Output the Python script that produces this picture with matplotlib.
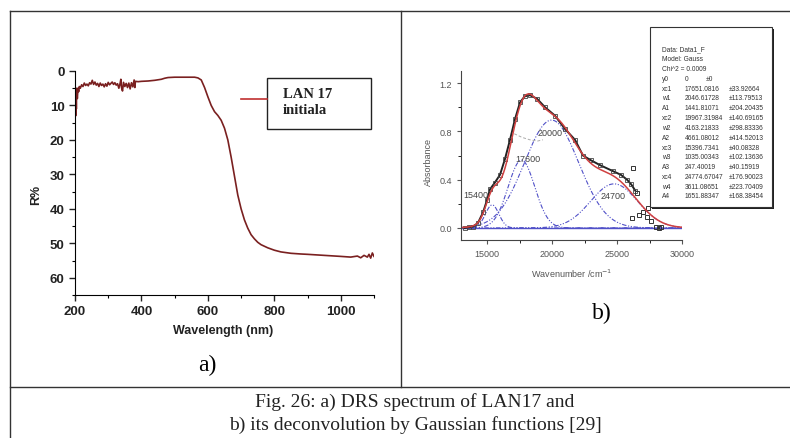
import numpy as np
import matplotlib
matplotlib.use('Agg')
import matplotlib.pyplot as plt
from matplotlib.patches import Rectangle
from matplotlib.ticker import MultipleLocator

plt.rcParams['font.family'] = ['Liberation Sans', 'DejaVu Sans']

# ---- panel a: DRS spectrum ----
wl = [200, 201, 202, 203, 204, 205, 207, 209, 211, 213, 216, 220, 224, 228, 232, 236, 240, 244,
      248, 252, 256, 260, 264, 268, 272, 276, 280, 284, 288, 292, 296, 300, 304, 308, 312, 316,
      320, 324, 328, 332, 336, 338, 340, 343, 346, 350, 354, 358, 362, 366, 370, 374, 378, 380,
      382, 390, 400, 420, 440, 460, 470, 480, 500, 520, 540, 560, 570, 580, 590, 600, 610, 620,
      630, 640, 650, 660, 670, 680, 690, 700, 710, 720, 730, 740, 750, 760, 780, 800, 820, 850,
      880, 900, 950, 1000, 1030, 1050, 1060, 1070, 1080, 1085, 1090, 1095, 1100]
refl = [16, 9, 13, 6, 11, 5, 8, 5, 6, 4.5, 5, 4, 4.5, 3.5, 4.2, 3.8, 4.3, 3.4,
        3.8, 2.7, 3.9, 3.2, 4.1, 3.6, 4.5, 3.5, 4.2, 3.8, 4.6, 3.7, 4.4, 3.3, 4.0, 3.6, 3.2, 3.9,
        3.4, 4.1, 3.7, 5.0, 3.5, 2.4, 4.8, 5.8, 3.3, 4.5, 3.6, 4.8, 3.5, 5.2, 3.4, 4.6, 2.6, 4.8,
        3.0, 3.1, 3.0, 2.9, 2.7, 2.4, 2.1, 1.9, 1.8, 1.8, 1.8, 1.8, 2.0, 2.6, 4.8, 7.5, 10.0, 11.8,
        12.9, 14.3, 16.6, 20.0, 25.0, 30.5, 36.0, 40.0, 43.2, 45.6, 47.5, 48.7, 49.7, 50.4, 51.3, 52.0, 52.5, 52.9,
        53.1, 53.2, 53.5, 53.8, 54.0, 53.7, 54.2, 53.5, 54.0, 53.2, 54.3, 52.8, 53.8]

# ---- panel b: absorbance + Gaussian deconvolution ----
wn = [13300, 13600, 13900, 14300, 14700, 15000, 15230, 15600, 16000, 16380, 16770, 17150, 17540,
      17900, 18300, 18850, 19460, 20230, 21000, 21770, 22380, 23000, 23700, 24700, 25300, 25770,
      26100, 26400]
absb = [0.0, 0.005, 0.01, 0.04, 0.13, 0.23, 0.32, 0.375, 0.44, 0.57, 0.73, 0.90, 1.04,
        1.09, 1.10, 1.07, 1.00, 0.93, 0.82, 0.73, 0.60, 0.56, 0.52, 0.47, 0.44, 0.40,
        0.36, 0.31]
out_x = [26230, 26150, 26540, 26700, 27000, 27300, 27380, 27600, 28000, 28200, 28400]
out_y = [0.50, 0.08, 0.29, 0.11, 0.135, 0.09, 0.165, 0.06, 0.01, 0.0, 0.01]
faint_x = [17100, 17700, 18300, 18900, 19300]
faint_y = [0.78, 0.75, 0.73, 0.72, 0.73]

# fit parameters as printed in the result box
xc = [17651.0816, 19967.31984, 15396.7341, 24774.67047]
w = [2046.61728, 4163.21833, 1035.00343, 3611.08651]
A = [1441.81071, 4661.08012, 247.40019, 1651.88347]
peak_lbl = ["17600", "20000", "15400", "24700"]
lbl_pos = [(18150, 0.575), (19850, 0.79), (14150, 0.275), (24700, 0.27)]

box_rows = [("xc1", "17651.0816", "\u00b133.92664"), ("w1", "2046.61728", "\u00b1113.79513"),
            ("A1", "1441.81071", "\u00b1204.20435"), ("xc2", "19967.31984", "\u00b1140.69165"),
            ("w2", "4163.21833", "\u00b1298.83336"), ("A2", "4661.08012", "\u00b1414.52013"),
            ("xc3", "15396.7341", "\u00b140.08328"), ("w3", "1035.00343", "\u00b1102.13636"),
            ("A3", "247.40019", "\u00b140.15919"), ("xc4", "24774.67047", "\u00b1176.90023"),
            ("w4", "3611.08651", "\u00b1223.70409"), ("A4", "1651.88347", "\u00b1168.38454")]

W, H = 790, 439
fig = plt.figure(figsize=(W / 100, H / 100), dpi=100)


def fx(x):
    return x / W


def fy(y):
    return 1 - y / H


# table frame
tc = '#333333'
fig.add_artist(plt.Line2D([fx(10), fx(10)], [fy(12), 0], color=tc, lw=1))
fig.add_artist(plt.Line2D([fx(10), 1], [fy(12), fy(12)], color=tc, lw=1))
fig.add_artist(plt.Line2D([fx(401), fx(401)], [fy(12), fy(388)], color=tc, lw=1))
fig.add_artist(plt.Line2D([fx(10), 1], [fy(388), fy(388)], color=tc, lw=1))

# ---------- panel a ----------
ax1 = fig.add_axes([fx(75), fy(296), 299 / W, 224 / H])
ax1.plot(wl, refl, color='#7a2020', lw=1.2)
ax1.set_xlim(200, 1100)
ax1.set_ylim(65, 0)
ax1.xaxis.set_major_locator(MultipleLocator(200))
ax1.xaxis.set_minor_locator(MultipleLocator(100))
ax1.yaxis.set_major_locator(MultipleLocator(10))
ax1.yaxis.set_minor_locator(MultipleLocator(5))
for s in ['top', 'right']:
    ax1.spines[s].set_visible(False)
ax1.tick_params(direction='out', length=4, width=1, labelsize=9.5, colors='#222222')
ax1.tick_params(which='minor', direction='out', length=2, width=0.8)
for lab in ax1.get_xticklabels() + ax1.get_yticklabels():
    lab.set_fontweight('bold')
ax1.set_xlabel("Wavelength (nm)", fontsize=9, fontweight='bold', color='#222222')
ax1.xaxis.set_label_coords(0.495, -0.13)
ax1.set_ylabel("R%", fontsize=9, fontweight='bold', color='#222222')
ax1.yaxis.set_label_coords(-0.11, 0.45)

# legend of panel a
fig.add_artist(plt.Line2D([fx(241), fx(267)], [fy(100), fy(100)], color='#c03030', lw=1.2))
fig.add_artist(Rectangle((fx(267), fy(130)), 104 / W, 51 / H, transform=fig.transFigure,
                         fill=False, edgecolor='#222222', lw=1))
fig.text(fx(283), fy(95), "LAN 17", family='Liberation Serif', fontweight='bold', fontsize=10.5,
         va='center', ha='left', color='#222222')
fig.text(fx(283), fy(111), "initiala", family='Liberation Serif', fontweight='bold', fontsize=10.5,
         va='center', ha='left', color='#222222')
fig.text(fx(207), fy(365), "a)", family='Liberation Serif', fontsize=17, ha='center', va='center')

# ---------- panel b ----------
ax2 = fig.add_axes([fx(461), fy(241), 221 / W, 169 / H])
xs = np.linspace(13000, 30000, 600)
comps = [a / (ww * np.sqrt(np.pi / 2)) * np.exp(-2 * ((xs - c) / ww) ** 2) for c, ww, a in zip(xc, w, A)]
blue = '#5050c8'
ax2.plot([13000, 30000], [0, 0], color=blue, lw=1)
for cc in comps:
    ax2.plot(xs, cc, color=blue, lw=0.8, ls=(0, (4, 1.5, 1, 1.5, 1, 1.5)))
ax2.plot(faint_x, faint_y, color='#aaaaaa', lw=0.7, ls=(0, (3, 2)))
ax2.plot(wn, absb, color='#222222', lw=1.4, marker='s', ms=2.5, mfc='none', mec='#444444', mew=0.6)
ax2.plot(out_x, out_y, ls='none', marker='s', ms=2.8, mfc='none', mec='#333333', mew=0.7)
ax2.plot(xs, np.sum(comps, axis=0), color='#d04040', lw=1.1)
for t, (px, py) in zip(peak_lbl, lbl_pos):
    ax2.text(px, py, t, fontsize=6.5, color='#444444', ha='center', va='center')
ax2.set_xlim(13000, 30000)
ax2.set_ylim(-0.1, 1.3)
ax2.xaxis.set_major_locator(MultipleLocator(5000))
ax2.xaxis.set_minor_locator(MultipleLocator(2500))
ax2.yaxis.set_major_locator(MultipleLocator(0.4))
ax2.yaxis.set_minor_locator(MultipleLocator(0.2))
ax2.yaxis.set_major_formatter(matplotlib.ticker.FormatStrFormatter('%.1f'))
for s in ['top', 'right']:
    ax2.spines[s].set_visible(False)
for s in ['left', 'bottom']:
    ax2.spines[s].set_color('#444444')
ax2.tick_params(direction='out', length=3, width=0.8, labelsize=6.5, colors='#555555')
ax2.tick_params(which='minor', direction='out', length=2, width=0.6)
ax2.set_xlabel("Wavenumber /cm$^{-1}$", fontsize=6.5, color='#555555')
ax2.xaxis.set_label_coords(0.502, -0.16)
ax2.set_ylabel("Absorbance", fontsize=6.5, color='#555555')
ax2.yaxis.set_label_coords(-0.125, 0.47)

# fit result box
fig.add_artist(Rectangle((fx(652), fy(210)), 122 / W, 180 / H, transform=fig.transFigure,
                         facecolor='#222222', edgecolor='none'))
fig.add_artist(Rectangle((fx(650), fy(208)), 122 / W, 180 / H, transform=fig.transFigure,
                         facecolor='white', edgecolor='#333333', lw=0.8))
tk = dict(fontsize=4.8, color='#333333', va='center', ha='left')
fig.text(fx(662), fy(50), "Data: Data1_F", **tk)
fig.text(fx(662), fy(59.8), "Model: Gauss", **tk)
fig.text(fx(662), fy(69.6), "Chi^2 = 0.0009", **tk)
fig.text(fx(662), fy(79.4), "y0", **tk)
fig.text(fx(685), fy(79.4), "0", **tk)
fig.text(fx(706), fy(79.4), "\u00b10", **tk)
for i, (n, v, e) in enumerate(box_rows):
    yy = 89.2 + i * 9.8
    fig.text(fx(662), fy(yy), n, **tk)
    fig.text(fx(685), fy(yy), v, **tk)
    fig.text(fx(729), fy(yy), e, **tk)

fig.text(fx(602), fy(313), "b)", family='Liberation Serif', fontsize=17, ha='center', va='center')

# caption
fig.text(fx(415), fy(402), "Fig. 26: a) DRS spectrum of LAN17 and", family='Liberation Serif',
         fontsize=14, ha='center', va='center', color='#222222')
fig.text(fx(415), fy(425), "b) its deconvolution by Gaussian functions [29]", family='Liberation Serif',
         fontsize=14, ha='center', va='center', color='#222222')

fig.savefig("out.png", dpi=100)
